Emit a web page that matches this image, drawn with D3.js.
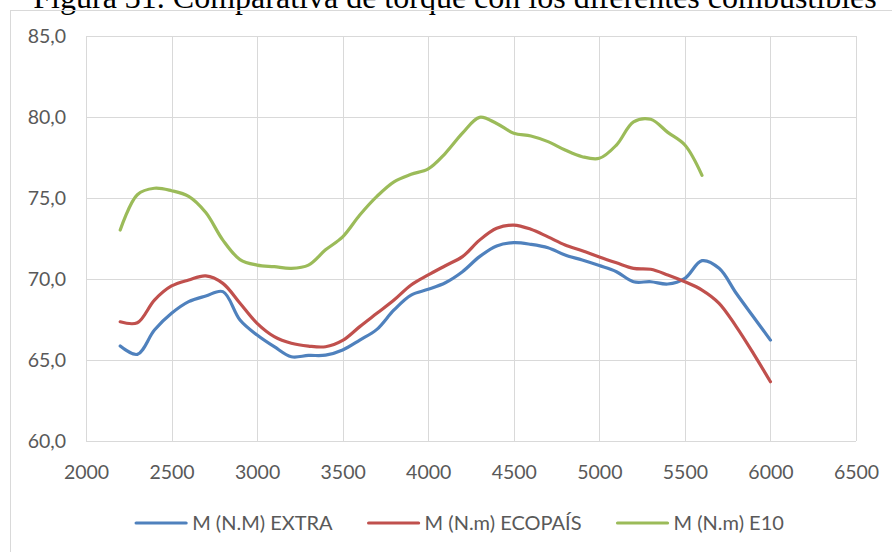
<!DOCTYPE html>
<html>
<head>
<meta charset="utf-8">
<script src="https://cdn.jsdelivr.net/npm/d3@7"></script>
<style>
  body { margin: 0; background: #fff; }
  svg { display: block; }
</style>
</head>
<body>
<svg id="chart" width="892" height="552"></svg>
<script>
// Engine speed (rpm) sampled every 100 rpm
const rpm = [2200, 2300, 2400, 2500, 2600, 2700, 2800, 2900, 3000, 3100,
             3200, 3300, 3400, 3500, 3600, 3700, 3800, 3900, 4000, 4100,
             4200, 4300, 4400, 4500, 4600, 4700, 4800, 4900, 5000, 5100,
             5200, 5300, 5400, 5500, 5600, 5700, 5800, 5900, 6000];

// Torque (N·m) for each fuel
const torqueExtra = [65.86, 65.35, 66.85, 67.88, 68.60, 68.95, 69.22, 67.47, 66.54, 65.82,
                     65.20, 65.28, 65.30, 65.62, 66.23, 66.89, 68.09, 69.01, 69.36, 69.77,
                     70.45, 71.38, 72.04, 72.24, 72.14, 71.93, 71.48, 71.17, 70.83, 70.45,
                     69.83, 69.83, 69.69, 70.04, 71.13, 70.66, 69.12, 67.67, 66.23];

const torqueEcopais = [67.36, 67.30, 68.70, 69.57, 69.94, 70.19, 69.73, 68.50, 67.26, 66.44,
                       66.03, 65.86, 65.82, 66.21, 67.06, 67.88, 68.70, 69.63, 70.25, 70.82,
                       71.38, 72.40, 73.13, 73.33, 73.07, 72.60, 72.10, 71.75, 71.36, 71.00,
                       70.66, 70.60, 70.25, 69.83, 69.32, 68.50, 67.06, 65.41, 63.66];

const torqueE10 = [73.02, 75.20, 75.60, 75.45, 75.10, 74.10, 72.40, 71.20, 70.86, 70.76,
                   70.66, 70.86, 71.80, 72.60, 73.95, 75.10, 76.00, 76.46, 76.80, 77.76,
                   79.00, 79.98, 79.60, 79.00, 78.83, 78.48, 77.96, 77.55, 77.45, 78.27,
                   79.70, 79.86, 79.05, 78.27, 76.40];

const seriesNames = ["M (N.M) EXTRA", "M (N.m) ECOPAÍS", "M (N.m) E10"];
const seriesColors = ["#4F81BD", "#C0504D", "#9BBB59"];

const xTicks = [2000, 2500, 3000, 3500, 4000, 4500, 5000, 5500, 6000, 6500];
const yTicks = [60, 65, 70, 75, 80, 85];

const titleText = "Figura 31. Comparativa de torque con los diferentes combustibles";

// ---------------------------------------------------------------------------
const svg = d3.select("#chart");
const W = 892, H = 552;
const plot = { left: 86, right: 856, top: 36, bottom: 441 };

const x = d3.scaleLinear().domain([2000, 6500]).range([plot.left, plot.right]);
const y = d3.scaleLinear().domain([60, 85]).range([plot.bottom, plot.top]);

const esLocale = d3.formatLocale({ decimal: ",", thousands: ".", grouping: [3], currency: ["", " €"] });
const fmtY = esLocale.format(".1f");

const axisFont = "Lato, 'Open Sans', sans-serif";
const labelColor = "#595959";
const gridColor = "#d9d9d9";

svg.append("rect").attr("width", W).attr("height", H).attr("fill", "#fff");

// Caption above the chart frame (runs off the top of the page)
svg.append("text")
  .attr("x", 455).attr("y", 8)
  .attr("text-anchor", "middle")
  .attr("font-family", "'Liberation Serif', 'Times New Roman', serif")
  .attr("font-size", 32)
  .attr("fill", "#000")
  .text(titleText);

// Chart frame
svg.append("rect")
  .attr("x", 10.5).attr("y", 10.5)
  .attr("width", W + 20).attr("height", H + 20)
  .attr("fill", "none")
  .attr("stroke", gridColor)
  .attr("stroke-width", 1);

// Gridlines
const grid = svg.append("g").attr("stroke", gridColor).attr("stroke-width", 1);
grid.selectAll("line.h").data(yTicks).join("line")
  .attr("class", "h")
  .attr("x1", plot.left).attr("x2", plot.right)
  .attr("y1", d => Math.round(y(d)) + 0.5).attr("y2", d => Math.round(y(d)) + 0.5);
grid.selectAll("line.v").data(xTicks).join("line")
  .attr("class", "v")
  .attr("y1", plot.top).attr("y2", plot.bottom)
  .attr("x1", d => Math.round(x(d)) + 0.5).attr("x2", d => Math.round(x(d)) + 0.5);

// Axes (labels only; rules come from the gridlines)
const xAxis = svg.append("g")
  .attr("transform", `translate(0,${plot.bottom})`)
  .call(d3.axisBottom(x).tickValues(xTicks).tickSize(0).tickPadding(24).tickFormat(d3.format("d")));
const yAxis = svg.append("g")
  .attr("transform", `translate(${plot.left},0)`)
  .call(d3.axisLeft(y).tickValues(yTicks).tickSize(0).tickPadding(20).tickFormat(fmtY));
[xAxis, yAxis].forEach(g => {
  g.select(".domain").remove();
  g.selectAll("text")
    .attr("font-family", axisFont)
    .attr("font-size", 19.5)
    .attr("fill", labelColor);
});

// Series lines
const series = [torqueExtra, torqueEcopais, torqueE10].map((vals, i) => ({
  name: seriesNames[i],
  color: seriesColors[i],
  points: vals.map((v, j) => [rpm[j], v])
}));

const line = d3.line()
  .x(d => x(d[0]))
  .y(d => y(d[1]))
  .curve(d3.curveCatmullRom.alpha(0.5));

svg.append("g").selectAll("path").data(series).join("path")
  .attr("d", d => line(d.points))
  .attr("fill", "none")
  .attr("stroke", d => d.color)
  .attr("stroke-width", 3.2)
  .attr("stroke-linecap", "round")
  .attr("stroke-linejoin", "round");

// Legend, centred under the plot
const legend = svg.append("g").attr("transform", "translate(0,523)");
const items = legend.selectAll("g").data(series).join("g");
items.append("line")
  .attr("x1", 0).attr("x2", 50)
  .attr("stroke", d => d.color)
  .attr("stroke-width", 3.2)
  .attr("stroke-linecap", "round");
items.append("text")
  .attr("x", 56).attr("dy", "0.35em")
  .attr("font-family", axisFont)
  .attr("font-size", 20)
  .attr("fill", labelColor)
  .text(d => d.name);

const widths = [];
items.each(function () { widths.push(56 + d3.select(this).select("text").node().getComputedTextLength()); });
const gap = 36;
const total = d3.sum(widths) + gap * (widths.length - 1);
let cx = 460 - total / 2;
items.attr("transform", (d, i) => {
  const t = `translate(${cx},0)`;
  cx += widths[i] + gap;
  return t;
});
</script>
</body>
</html>
